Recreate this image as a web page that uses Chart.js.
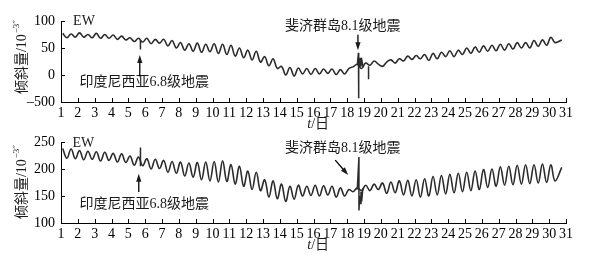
<!DOCTYPE html>
<html>
<head>
<meta charset="utf-8">
<script src="https://cdn.jsdelivr.net/npm/chart.js@4.4.1/dist/chart.umd.min.js"></script>
<style>
    body { margin: 0; background: #fff; width: 608px; height: 255px; position: relative; overflow: hidden; }
    canvas { position: absolute; left: 0; }
    #tiltTop { top: 0; }
    #tiltBottom { top: 127px; }
</style>
</head>
<body>
<canvas id="tiltTop" width="608" height="132"></canvas>
<canvas id="tiltBottom" width="608" height="128"></canvas>
<script>
// sample times (day of month): one value per peak / trough
const times = [
    1.1, 1.35, 1.6, 1.85,  2.1, 2.35, 2.6, 2.85,  3.1, 3.35, 3.6, 3.85,
    4.1, 4.35, 4.6, 4.85,  5.1, 5.35, 5.6, 5.85,  6.1, 6.35, 6.6, 6.85,
    7.1, 7.35, 7.6, 7.85,  8.1, 8.35, 8.6, 8.85,  9.1, 9.35, 9.6, 9.85,
    10.1, 10.35, 10.6, 10.85,  11.1, 11.35, 11.6, 11.85,  12.1, 12.35, 12.6, 12.85,
    13.1, 13.35, 13.6, 13.85,  14.1, 14.35, 14.6, 14.85,  15.1, 15.35, 15.6, 15.85,
    16.1, 16.35, 16.6, 16.85,  17.1, 17.35, 17.6, 17.85,  18.1, 18.35, 18.6, 18.85,
    19.1, 19.35, 19.6, 19.85,  20.1, 20.35, 20.6, 20.85,  21.1, 21.35, 21.6, 21.85,
    22.1, 22.35, 22.6, 22.85,  23.1, 23.35, 23.6, 23.85,  24.1, 24.35, 24.6, 24.85,
    25.1, 25.35, 25.6, 25.85,  26.1, 26.35, 26.6, 26.85,  27.1, 27.35, 27.6, 27.85,
    28.1, 28.35, 28.6, 28.85,  29.1, 29.35, 29.6, 29.85,  30.1, 30.35, 30.75
];

// upper panel, EW tilt (10^-3")
const ewTop = [
    77, 69, 76, 70,  78, 70, 75, 69,  77, 68, 75, 68,
    74, 66, 72, 65,  69, 62, 68, 61,  68, 58, 66, 59,
    66, 54, 64, 50,  60, 46, 58, 44,  59, 42, 57, 43,
    58, 40, 57, 38,  55, 35, 50, 32,  46, 28, 44, 24,
    34, 17, 30, 12,  16, 0, 14, -2,  13, 2, 12, 1,
    12, 2, 11, 3,  11, 1, 10, 2,  12, 15, 20, 12,
    22, 18, 26, 20,  16, 24, 28, 22,  30, 26, 35, 29,
    36, 30, 38, 27,  40, 30, 42, 34,  45, 34, 46, 38,
    50, 40, 52, 42,  54, 44, 55, 45,  57, 46, 58, 48,
    60, 50, 60, 50,  64, 53, 65, 55,  70, 60, 65
];

// lower panel, EW tilt (10^-3")
const ewBottom = [
    238, 220, 237, 219,  234, 217, 233, 218,  232, 215, 231, 216,
    229, 213, 228, 212,  224, 207, 222, 206,  219, 200, 218, 201,
    216, 194, 214, 192,  213, 187, 211, 185,  212, 180, 213, 178,
    214, 176, 215, 177,  208, 172, 205, 168,  196, 162, 194, 160,
    180, 148, 178, 145,  172, 140, 168, 144,  170, 150, 168, 151,
    170, 150, 169, 152,  168, 148, 165, 150,  162, 158, 165, 160,
    170, 160, 172, 162,  174, 155, 176, 156,  178, 152, 179, 150,
    180, 148, 182, 150,  186, 152, 188, 154,  190, 156, 192, 158,
    194, 160, 196, 162,  199, 166, 200, 168,  204, 170, 205, 171,
    207, 172, 208, 173,  208, 174, 209, 175,  208, 178, 203
];

// earthquake jumps
const indoTopX = [5.72, 5.72];
const indoTopY = [65, 47];
const fijiTopX = [18.6, 18.67, 18.67, 18.7, 18.74, 18.78, 18.82, 18.88, 18.95];
const fijiTopY = [18, 41, -43, 30, 13, 32, 16, 26, 14];
const afterTopX = [19.27, 19.27];
const afterTopY = [16, -8];

const indoBottomX = [5.72, 5.72];
const indoBottomY = [240, 205];
const fijiBottomX = [18.6, 18.7, 18.7, 18.74, 18.78, 18.82, 18.86, 18.92, 18.98];
const fijiBottomY = [162, 222, 123, 150, 136, 158, 140, 160, 165];

const yTicksTop = [-50, 0, 50, 100];
const yTicksBottom = [100, 150, 200, 250];

const serif = '"Liberation Serif", "Noto Sans CJK SC"';
const lineColor = '#2b2b2b';

function pairs(xs, ys) {
    return xs.map((x, i) => ({ x: x, y: ys[i] }));
}

/*------------------ticks inside, labels, arrows------------------------*/
function drawArrow(ctx, x0, y0, x1, y1) {
    const ang = Math.atan2(y1 - y0, x1 - x0);
    ctx.beginPath();
    ctx.moveTo(x0, y0);
    ctx.lineTo(x1 - 5 * Math.cos(ang), y1 - 5 * Math.sin(ang));
    ctx.stroke();
    ctx.beginPath();
    ctx.moveTo(x1, y1);
    ctx.lineTo(x1 - 8 * Math.cos(ang) + 2.6 * Math.sin(ang), y1 - 8 * Math.sin(ang) - 2.6 * Math.cos(ang));
    ctx.lineTo(x1 - 8 * Math.cos(ang) - 2.6 * Math.sin(ang), y1 - 8 * Math.sin(ang) + 2.6 * Math.cos(ang));
    ctx.closePath();
    ctx.fill();
}

function notesPlugin(notes) {
    return {
        id: 'notes',
        afterDraw(chart) {
            const { ctx, chartArea, scales: { x, y } } = chart;
            ctx.save();
            ctx.strokeStyle = '#000';
            ctx.fillStyle = '#1a1a1a';
            ctx.lineWidth = 1;

            // inward tick marks
            ctx.beginPath();
            x.ticks.forEach(t => {
                const px = Math.round(x.getPixelForValue(t.value)) + 0.5;
                ctx.moveTo(px, chartArea.bottom);
                ctx.lineTo(px, chartArea.bottom - 4);
            });
            y.ticks.forEach(t => {
                const py = Math.round(y.getPixelForValue(t.value)) + 0.5;
                ctx.moveTo(chartArea.left, py);
                ctx.lineTo(chartArea.left + 4, py);
            });
            ctx.stroke();

            ctx.textBaseline = 'middle';
            ctx.textAlign = 'left';
            ctx.font = '14px ' + serif;
            ctx.fillText('EW', x.getPixelForValue(notes.ew[0]), y.getPixelForValue(notes.ew[1]));
            ctx.fillText('印度尼西亚6.8级地震', x.getPixelForValue(notes.indo[0]), y.getPixelForValue(notes.indo[1]));
            ctx.fillText('斐济群岛8.1级地震', x.getPixelForValue(notes.fiji[0]), y.getPixelForValue(notes.fiji[1]));

            ctx.lineWidth = 1.3;
            notes.arrows.forEach(a => {
                drawArrow(ctx, x.getPixelForValue(a[0]), y.getPixelForValue(a[1]),
                    x.getPixelForValue(a[2]), y.getPixelForValue(a[3]));
            });

            // x title: italic t / 日
            const ty = chartArea.bottom + 22;
            const tx = x.getPixelForValue(notes.xTitle);
            ctx.font = 'italic 14px "Liberation Serif"';
            const wt = ctx.measureText('t').width;
            ctx.font = '14px ' + serif;
            const wr = ctx.measureText('/日').width;
            let sx = tx - (wt + wr) / 2;
            ctx.font = 'italic 14px "Liberation Serif"';
            ctx.fillText('t', sx, ty);
            ctx.font = '14px ' + serif;
            ctx.fillText('/日', sx + wt, ty);

            // y title, rotated, with superscript
            ctx.translate(22, (chartArea.top + chartArea.bottom) / 2 + notes.yTitleShift);
            ctx.rotate(-Math.PI / 2);
            ctx.font = '14px ' + serif;
            const main = '倾斜量/10';
            const w1 = ctx.measureText(main).width;
            ctx.font = '9px "Liberation Serif"';
            const w2 = ctx.measureText('−3″').width;
            sx = -(w1 + w2) / 2;
            ctx.font = '14px ' + serif;
            ctx.fillText(main, sx, 0);
            ctx.font = '9px "Liberation Serif"';
            ctx.fillText('−3″', sx + w1 + 1, -5);
            ctx.restore();
        }
    };
}

function makeChart(id, series, spikes, yMin, yMax, yTicks, padTop, xHeight, notes) {
    const datasets = [{
        data: pairs(times, series),
        borderColor: lineColor,
        borderWidth: 1.6,
        pointRadius: 0,
        tension: 0.4
    }];
    spikes.forEach(s => {
        datasets.push({
            data: pairs(s[0], s[1]),
            borderColor: lineColor,
            borderWidth: 1.5,
            pointRadius: 0,
            tension: 0
        });
    });

    const ctx = document.getElementById(id).getContext('2d');
    return new Chart(ctx, {
        type: 'line',
        data: { datasets: datasets },
        options: {
            responsive: false,
            animation: false,
            devicePixelRatio: 1,
            layout: { padding: { left: 0, right: 42, top: padTop, bottom: 0 } },
            plugins: { legend: { display: false }, tooltip: { enabled: false } },
            scales: {
                x: {
                    type: 'linear',
                    min: 1,
                    max: 31,
                    ticks: {
                        stepSize: 1,
                        autoSkip: false,
                        maxRotation: 0,
                        padding: 3,
                        color: '#000',
                        font: { family: serif, size: 14 }
                    },
                    grid: { drawOnChartArea: false, drawTicks: false },
                    border: { color: '#000', width: 1 },
                    afterFit: s => { s.height = xHeight; }
                },
                y: {
                    min: yMin,
                    max: yMax,
                    afterBuildTicks: s => { s.ticks = yTicks.map(v => ({ value: v })); },
                    ticks: {
                        padding: 6,
                        color: '#000',
                        font: { family: serif, size: 14 },
                        callback: v => (v === -50 ? '–500' : String(v))
                    },
                    grid: { drawOnChartArea: false, drawTicks: false },
                    border: { color: '#000', width: 1 },
                    afterFit: s => { s.width = 61; }
                }
            }
        },
        plugins: [notesPlugin(notes)]
    });
}

makeChart('tiltTop', ewTop,
    [[indoTopX, indoTopY], [fijiTopX, fijiTopY], [afterTopX, afterTopY]],
    -50, 100, yTicksTop, 21, 30,
    {
        ew: [1.72, 100],
        indo: [2.1, -13.6],
        fiji: [14.3, 90.8],
        arrows: [[5.68, -2.6, 5.68, 37], [18.64, 74.4, 18.64, 46]],
        xTitle: 16.28,
        yTitleShift: -4
    });

makeChart('tiltBottom', ewBottom,
    [[indoBottomX, indoBottomY], [fijiBottomX, fijiBottomY]],
    100, 250, yTicksBottom, 15, 32,
    {
        ew: [1.68, 247.6],
        indo: [2.1, 133.7],
        fiji: [14.3, 238.4],
        arrows: [[5.62, 157.5, 5.62, 191], [17.29, 216.4, 18.06, 188.8]],
        xTitle: 16.28,
        yTitleShift: 0
    });
</script>
</body>
</html>
